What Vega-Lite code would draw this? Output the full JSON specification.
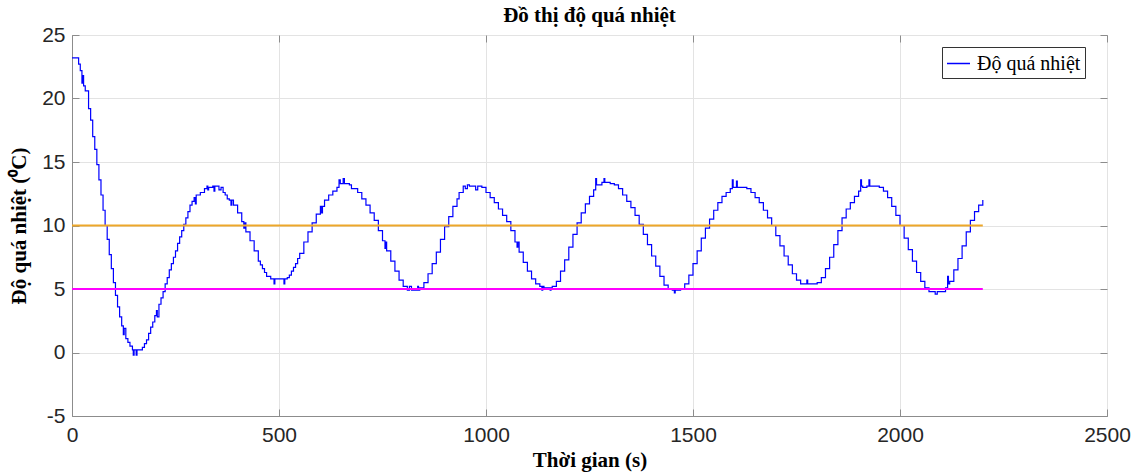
{
  "$schema": "https://vega.github.io/schema/vega-lite/v6.json",
  "width": 1035,
  "height": 381,
  "autosize": {"type": "none"},
  "padding": {"left": 72, "top": 35, "right": 35, "bottom": 58},
  "background": "white",
  "title": {"text": "Đồ thị độ quá nhiệt", "font": "Liberation Serif", "fontSize": 21, "fontWeight": "bold", "color": "#000000", "anchor": "middle", "frame": "group", "offset": -2},
  "config": {
    "view": {"stroke": "#8c8c8c", "strokeWidth": 1},
    "axis": {
      "labelFont": "Liberation Sans",
      "labelFontSize": 21,
      "labelColor": "#262626",
      "titleFont": "Liberation Serif",
      "titleFontSize": 21,
      "titleFontWeight": "bold",
      "titleColor": "#000000",
      "gridColor": "#e3e3e3",
      "gridWidth": 1,
      "domainColor": "#8c8c8c",
      "tickColor": "#8c8c8c",
      "tickSize": -7
    }
  },
  "datasets": {
    "temp": [
      {"t":0,"v":23.2},{"t":10,"v":23.2},{"t":16,"v":22.7},{"t":20,"v":22.2},{"t":24,"v":21.2},{"t":26,"v":21.8},{"t":28,"v":21.0},{"t":32,"v":20.6},{"t":40,"v":19.2},{"t":45,"v":18.3},{"t":50,"v":17.0},{"t":55,"v":16.0},{"t":60,"v":14.8},{"t":65,"v":13.6},{"t":70,"v":12.4},{"t":75,"v":11.2},{"t":80,"v":10.0},{"t":85,"v":8.9},{"t":90,"v":7.7},{"t":95,"v":6.6},{"t":100,"v":5.5},{"t":105,"v":4.5},{"t":110,"v":3.6},{"t":115,"v":2.8},{"t":120,"v":2.1},{"t":124,"v":1.4},{"t":126,"v":1.9},{"t":130,"v":1.1},{"t":135,"v":0.8},{"t":140,"v":0.5},{"t":146,"v":0.2},{"t":148,"v":-0.2},{"t":150,"v":0.2},{"t":155,"v":-0.2},{"t":157,"v":0.2},{"t":165,"v":0.2},{"t":170,"v":0.4},{"t":175,"v":0.7},{"t":180,"v":1.0},{"t":185,"v":1.5},{"t":190,"v":2.0},{"t":195,"v":2.4},{"t":200,"v":2.9},{"t":204,"v":3.3},{"t":206,"v":2.8},{"t":210,"v":3.8},{"t":215,"v":4.3},{"t":220,"v":4.8},{"t":225,"v":5.4},{"t":230,"v":5.9},{"t":235,"v":6.5},{"t":240,"v":7.0},{"t":245,"v":7.5},{"t":250,"v":8.0},{"t":255,"v":8.6},{"t":260,"v":9.1},{"t":265,"v":9.6},{"t":270,"v":10.1},{"t":275,"v":10.6},{"t":280,"v":11.1},{"t":285,"v":11.6},{"t":290,"v":11.9},{"t":295,"v":12.2},{"t":298,"v":11.7},{"t":300,"v":12.4},{"t":310,"v":12.6},{"t":320,"v":12.9},{"t":326,"v":13.1},{"t":328,"v":12.8},{"t":330,"v":13.0},{"t":340,"v":13.1},{"t":343,"v":12.7},{"t":345,"v":13.1},{"t":350,"v":13.1},{"t":355,"v":12.8},{"t":360,"v":13.0},{"t":365,"v":12.6},{"t":370,"v":12.4},{"t":375,"v":12.1},{"t":380,"v":12.0},{"t":384,"v":11.6},{"t":386,"v":12.0},{"t":390,"v":11.6},{"t":400,"v":11.0},{"t":410,"v":10.3},{"t":415,"v":9.8},{"t":418,"v":10.2},{"t":420,"v":9.5},{"t":430,"v":8.8},{"t":440,"v":8.0},{"t":450,"v":7.2},{"t":455,"v":6.9},{"t":460,"v":6.6},{"t":465,"v":6.3},{"t":470,"v":6.0},{"t":480,"v":5.8},{"t":488,"v":5.4},{"t":490,"v":5.8},{"t":500,"v":5.8},{"t":510,"v":5.8},{"t":512,"v":5.4},{"t":514,"v":5.8},{"t":520,"v":5.9},{"t":525,"v":6.1},{"t":530,"v":6.4},{"t":535,"v":6.7},{"t":540,"v":7.0},{"t":545,"v":7.4},{"t":550,"v":7.8},{"t":560,"v":8.7},{"t":570,"v":9.5},{"t":580,"v":10.2},{"t":590,"v":10.9},{"t":600,"v":11.5},{"t":603,"v":11.0},{"t":605,"v":11.5},{"t":610,"v":12.0},{"t":620,"v":12.4},{"t":630,"v":12.7},{"t":640,"v":13.0},{"t":645,"v":13.6},{"t":648,"v":13.3},{"t":650,"v":13.3},{"t":655,"v":13.7},{"t":658,"v":13.3},{"t":660,"v":13.3},{"t":670,"v":13.2},{"t":675,"v":12.9},{"t":680,"v":12.9},{"t":690,"v":12.6},{"t":700,"v":12.1},{"t":710,"v":11.6},{"t":720,"v":11.0},{"t":730,"v":10.4},{"t":740,"v":9.6},{"t":750,"v":8.8},{"t":756,"v":8.2},{"t":758,"v":8.7},{"t":760,"v":8.0},{"t":770,"v":7.2},{"t":780,"v":6.4},{"t":790,"v":5.7},{"t":800,"v":5.2},{"t":810,"v":4.9},{"t":815,"v":5.2},{"t":820,"v":4.9},{"t":830,"v":4.9},{"t":835,"v":5.2},{"t":837,"v":4.9},{"t":840,"v":5.1},{"t":850,"v":5.5},{"t":860,"v":6.2},{"t":870,"v":7.0},{"t":880,"v":7.9},{"t":890,"v":8.9},{"t":900,"v":9.9},{"t":910,"v":10.7},{"t":920,"v":11.5},{"t":930,"v":12.1},{"t":935,"v":12.6},{"t":940,"v":12.6},{"t":945,"v":13.1},{"t":950,"v":12.9},{"t":955,"v":13.2},{"t":960,"v":13.1},{"t":970,"v":13.1},{"t":975,"v":12.8},{"t":980,"v":13.1},{"t":990,"v":13.0},{"t":1000,"v":12.6},{"t":1010,"v":12.2},{"t":1020,"v":11.8},{"t":1030,"v":11.3},{"t":1040,"v":10.8},{"t":1050,"v":10.3},{"t":1060,"v":9.6},{"t":1070,"v":8.7},{"t":1075,"v":8.3},{"t":1077,"v":8.7},{"t":1080,"v":7.9},{"t":1090,"v":7.1},{"t":1100,"v":6.4},{"t":1110,"v":5.8},{"t":1120,"v":5.4},{"t":1130,"v":5.2},{"t":1135,"v":4.9},{"t":1137,"v":5.2},{"t":1140,"v":5.1},{"t":1150,"v":5.1},{"t":1155,"v":4.9},{"t":1157,"v":5.1},{"t":1160,"v":5.2},{"t":1170,"v":5.6},{"t":1180,"v":6.4},{"t":1190,"v":7.3},{"t":1200,"v":8.3},{"t":1210,"v":9.3},{"t":1220,"v":10.2},{"t":1230,"v":11.0},{"t":1240,"v":11.7},{"t":1250,"v":12.3},{"t":1260,"v":12.8},{"t":1265,"v":13.7},{"t":1267,"v":13.2},{"t":1270,"v":13.2},{"t":1280,"v":13.4},{"t":1285,"v":13.7},{"t":1287,"v":13.4},{"t":1290,"v":13.4},{"t":1300,"v":13.3},{"t":1310,"v":13.2},{"t":1320,"v":12.9},{"t":1330,"v":12.4},{"t":1340,"v":11.9},{"t":1350,"v":11.4},{"t":1360,"v":10.8},{"t":1370,"v":10.1},{"t":1380,"v":9.3},{"t":1390,"v":8.5},{"t":1400,"v":7.6},{"t":1410,"v":6.8},{"t":1420,"v":6.0},{"t":1430,"v":5.3},{"t":1440,"v":5.0},{"t":1450,"v":4.9},{"t":1455,"v":4.7},{"t":1457,"v":4.9},{"t":1460,"v":4.9},{"t":1470,"v":5.0},{"t":1480,"v":5.4},{"t":1490,"v":6.1},{"t":1500,"v":7.0},{"t":1510,"v":8.0},{"t":1520,"v":9.0},{"t":1530,"v":9.8},{"t":1540,"v":10.5},{"t":1550,"v":11.2},{"t":1560,"v":11.8},{"t":1570,"v":12.3},{"t":1580,"v":12.6},{"t":1590,"v":12.9},{"t":1595,"v":13.6},{"t":1597,"v":13.0},{"t":1600,"v":13.0},{"t":1605,"v":13.5},{"t":1607,"v":13.0},{"t":1610,"v":13.0},{"t":1620,"v":13.0},{"t":1630,"v":12.9},{"t":1640,"v":12.6},{"t":1650,"v":12.2},{"t":1660,"v":11.8},{"t":1670,"v":11.2},{"t":1680,"v":10.6},{"t":1690,"v":10.0},{"t":1700,"v":9.2},{"t":1710,"v":8.4},{"t":1720,"v":7.6},{"t":1730,"v":6.9},{"t":1740,"v":6.2},{"t":1750,"v":5.7},{"t":1760,"v":5.4},{"t":1770,"v":5.4},{"t":1775,"v":5.7},{"t":1777,"v":5.4},{"t":1780,"v":5.4},{"t":1790,"v":5.4},{"t":1800,"v":5.5},{"t":1810,"v":5.9},{"t":1820,"v":6.6},{"t":1830,"v":7.5},{"t":1840,"v":8.5},{"t":1850,"v":9.6},{"t":1860,"v":10.6},{"t":1870,"v":11.3},{"t":1880,"v":11.8},{"t":1890,"v":12.3},{"t":1900,"v":12.7},{"t":1905,"v":13.6},{"t":1907,"v":13.1},{"t":1910,"v":13.0},{"t":1920,"v":13.1},{"t":1925,"v":13.6},{"t":1927,"v":13.1},{"t":1930,"v":13.1},{"t":1940,"v":13.1},{"t":1950,"v":13.0},{"t":1960,"v":12.7},{"t":1970,"v":12.2},{"t":1980,"v":11.5},{"t":1990,"v":10.8},{"t":2000,"v":10.0},{"t":2010,"v":9.0},{"t":2020,"v":8.1},{"t":2030,"v":7.2},{"t":2040,"v":6.3},{"t":2050,"v":5.6},{"t":2060,"v":5.1},{"t":2070,"v":4.8},{"t":2080,"v":4.8},{"t":2085,"v":4.6},{"t":2090,"v":4.8},{"t":2100,"v":4.8},{"t":2110,"v":5.1},{"t":2115,"v":6.0},{"t":2117,"v":5.4},{"t":2120,"v":5.6},{"t":2130,"v":6.5},{"t":2140,"v":7.4},{"t":2150,"v":8.4},{"t":2160,"v":9.5},{"t":2170,"v":10.4},{"t":2180,"v":11.1},{"t":2190,"v":11.6},{"t":2200,"v":12.0}
    ],
    "upper": [{"t": 0, "v": 10}, {"t": 2200, "v": 10}],
    "lower": [{"t": 0, "v": 5}, {"t": 2200, "v": 5}]
  },
  "layer": [
    {
      "data": {"name": "temp"},
      "mark": {"type": "line", "interpolate": "step-after", "strokeWidth": 1.2, "clip": true},
      "encoding": {
        "x": {"field": "t", "type": "quantitative", "scale": {"domain": [0, 2500], "nice": false}, "axis": {"title": "Thời gian (s)", "values": [0, 500, 1000, 1500, 2000, 2500], "labelExpr": "'' + datum.value", "grid": true, "labelPadding": 15, "titlePadding": 4, "labelFlush": false}},
        "y": {"field": "v", "type": "quantitative", "scale": {"domain": [-5, 25], "nice": false, "zero": false}, "axis": {"title": "Độ quá nhiệt (⁰C)", "values": [-5, 0, 5, 10, 15, 20, 25], "labelExpr": "'' + datum.value", "grid": true, "labelPadding": 14, "titlePadding": 12, "labelFlush": false}},
        "color": {"datum": "Độ quá nhiệt", "type": "nominal", "scale": {"range": ["#0000ff"]}, "legend": {"title": null, "orient": "none", "legendX": 870, "legendY": 12, "strokeColor": "#333333", "fillColor": "white", "padding": 4, "symbolType": "stroke", "symbolSize": 529, "symbolStrokeWidth": 1.5, "labelFont": "Liberation Serif", "labelFontSize": 20, "labelColor": "#000000", "labelOffset": 6}}
      }
    },
    {
      "data": {"name": "upper"},
      "mark": {"type": "line", "color": "#EDA72A", "strokeWidth": 2},
      "encoding": {
        "x": {"field": "t", "type": "quantitative", "axis": {"orient": "top", "labels": false, "title": null, "grid": false, "domain": false, "values": [0, 500, 1000, 1500, 2000, 2500]}},
        "y": {"field": "v", "type": "quantitative", "axis": {"orient": "right", "labels": false, "title": null, "grid": false, "domain": false, "values": [-5, 0, 5, 10, 15, 20, 25]}}
      }
    },
    {
      "data": {"name": "lower"},
      "mark": {"type": "line", "color": "#FF00FF", "strokeWidth": 2},
      "encoding": {
        "x": {"field": "t", "type": "quantitative", "axis": null},
        "y": {"field": "v", "type": "quantitative", "axis": null}
      }
    }
  ],
  "resolve": {"axis": {"x": "independent", "y": "independent"}}
}
